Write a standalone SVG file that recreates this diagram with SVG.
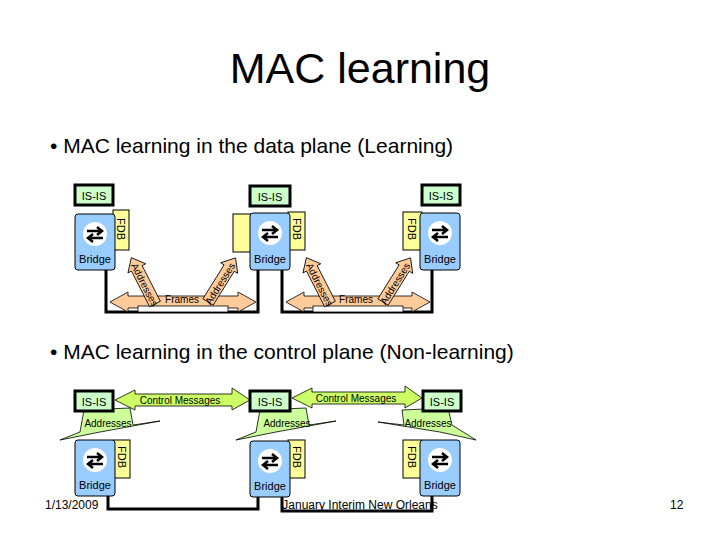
<svg xmlns="http://www.w3.org/2000/svg" width="720" height="540" viewBox="0 0 720 540">
<style>
text{font-family:"Liberation Sans",Arial,sans-serif}
.isis{fill:#ccffcc;stroke:#000;stroke-width:3}
.br{fill:#99ccff;stroke:#000;stroke-width:1}
.fdb{fill:#ffff99;stroke:#000;stroke-width:1}
.sm{font-size:11px}
.ln{fill:none;stroke:#000;stroke-width:3}
.fr{fill:#ffcc99;stroke:#000;stroke-width:0.8}
.cm{fill:#ccff66;stroke:#000;stroke-width:0.8}
.ad{fill:#ccff99;stroke:#000;stroke-width:0.8}
</style>
<defs>
<g id="icon"><circle r="12" fill="#fff"/><path d="M-8,-3 H6 M2,-7 L7,-3 L2,1 M8,4 H-6 M-2,0 L-7,4 L-2,8" stroke="#000" stroke-width="2.5" fill="none"/></g>
<polygon id="addr" class="fr" points="0,-6 40,-6 40,-10 52,0 40,10 40,6 0,6"/>
</defs>
<rect width="720" height="540" fill="#fff"/>
<text x="360" y="83" font-size="43" text-anchor="middle">MAC learning</text>
<text x="50" y="153" font-size="21">•  MAC learning in the data plane (Learning)</text>
<text x="50" y="359" font-size="21">•  MAC learning in the control plane (Non-learning)</text>
<g id="connectors">
<path class="ln" d="M106,270 V312 H258 V270"/>
<path class="ln" d="M282,270 V312 H432 V270"/>
<polygon class="fr" points="110,302 128,292 128,296 238,296 238,292 256,302 238,312 238,308 128,308 128,312"/>
<polygon class="fr" points="286,302 304,292 304,296 412,296 412,292 430,302 412,312 412,308 304,308 304,312"/>
<rect x="138" y="306" width="90" height="6" fill="#fff" stroke="#000" stroke-width="0.8"/>
<rect x="313" y="306" width="90" height="6" fill="#fff" stroke="#000" stroke-width="0.8"/>
<text x="182" y="303" font-size="10" text-anchor="middle">Frames</text>
<text x="356" y="303" font-size="10" text-anchor="middle">Frames</text>
<g transform="translate(155,304) rotate(-117)"><use href="#addr"/><text x="22" y="4" font-size="10" text-anchor="middle" transform="rotate(180 22 0)">Addresses</text></g>
<g transform="translate(208,302) rotate(-58)"><use href="#addr"/><text x="22" y="4" font-size="10" text-anchor="middle">Addresses</text></g>
<g transform="translate(330,304) rotate(-117)"><use href="#addr"/><text x="22" y="4" font-size="10" text-anchor="middle" transform="rotate(180 22 0)">Addresses</text></g>
<g transform="translate(383,302) rotate(-58)"><use href="#addr"/><text x="22" y="4" font-size="10" text-anchor="middle">Addresses</text></g>
<path class="ln" d="M108,495 V509 H258 V495"/>
<path class="ln" d="M282,495 V511 H432 V495"/>
<polygon class="cm" points="115,400 135,390 135,394 232,394 232,388 250,400 232,410 232,406 135,406 135,410"/>
<polygon class="cm" points="292,398 312,388 312,392 405,392 405,386 422,398 405,408 405,404 312,404 312,408"/>
<text x="180" y="404" font-size="10" text-anchor="middle">Control Messages</text>
<text x="356" y="402" font-size="10" text-anchor="middle">Control Messages</text>
<polygon class="ad" points="84,410 130,408 133,425 160,421 100,432 60,440 80,432"/>
<polygon class="ad" points="260,410 306,408 309,425 336,421 276,432 236,440 256,432"/>
<polygon class="ad" points="402,410 448,408 452,425 476,440 440,432 378,422 404,425"/>
<text x="108" y="427" font-size="10" text-anchor="middle">Addresses</text>
<text x="287" y="427" font-size="10" text-anchor="middle">Addresses</text>
<text x="428" y="427" font-size="10" text-anchor="middle">Addresses</text>
</g>
<g id="bridge1">
<rect class="isis" x="75" y="185" width="38" height="20"/><text x="94" y="200" class="sm" text-anchor="middle">IS-IS</text>
<rect class="fdb" x="113" y="210" width="16" height="40"/><text class="sm" transform="translate(117,218) rotate(90)">FDB</text>
<rect class="br" x="75" y="214" width="40" height="56" rx="3"/><use href="#icon" x="95" y="234"/><text x="95" y="263" class="sm" text-anchor="middle">Bridge</text>
</g>
<g id="bridge2">
<rect class="isis" x="250" y="186" width="40" height="20"/><text x="270" y="201" class="sm" text-anchor="middle">IS-IS</text>
<rect class="fdb" x="233" y="214" width="20" height="38" stroke-width="2"/>
<rect class="fdb" x="288" y="212" width="17" height="38"/><text class="sm" transform="translate(293,218) rotate(90)">FDB</text>
<rect class="br" x="250" y="213" width="40" height="57" rx="3"/><use href="#icon" x="270" y="233"/><text x="270" y="263" class="sm" text-anchor="middle">Bridge</text>
</g>
<g id="bridge3">
<rect class="isis" x="422" y="185" width="38" height="20"/><text x="441" y="200" class="sm" text-anchor="middle">IS-IS</text>
<rect class="fdb" x="403" y="212" width="19" height="38"/><text class="sm" transform="translate(408,218) rotate(90)">FDB</text>
<rect class="br" x="420" y="213" width="40" height="57" rx="3"/><use href="#icon" x="440" y="233"/><text x="440" y="263" class="sm" text-anchor="middle">Bridge</text>
</g>
<g id="bridge4">
<rect class="isis" x="75" y="391" width="38" height="20"/><text x="94" y="406" class="sm" text-anchor="middle">IS-IS</text>
<rect class="fdb" x="113" y="440" width="17" height="38"/><text class="sm" transform="translate(118,446) rotate(90)">FDB</text>
<rect class="br" x="75" y="440" width="40" height="56" rx="3"/><use href="#icon" x="95" y="460"/><text x="95" y="489" class="sm" text-anchor="middle">Bridge</text>
</g>
<g id="bridge5">
<rect class="isis" x="250" y="391" width="40" height="20"/><text x="270" y="406" class="sm" text-anchor="middle">IS-IS</text>
<rect class="fdb" x="288" y="440" width="17" height="38"/><text class="sm" transform="translate(293,446) rotate(90)">FDB</text>
<rect class="br" x="250" y="441" width="40" height="56" rx="3"/><use href="#icon" x="270" y="461"/><text x="270" y="490" class="sm" text-anchor="middle">Bridge</text>
</g>
<g id="bridge6">
<rect class="isis" x="423" y="391" width="38" height="20"/><text x="442" y="406" class="sm" text-anchor="middle">IS-IS</text>
<rect class="fdb" x="403" y="440" width="19" height="38"/><text class="sm" transform="translate(408,446) rotate(90)">FDB</text>
<rect class="br" x="420" y="440" width="40" height="56" rx="3"/><use href="#icon" x="440" y="460"/><text x="440" y="489" class="sm" text-anchor="middle">Bridge</text>
</g>
<text x="45" y="509" font-size="12">1/13/2009</text>
<text x="360" y="509" font-size="12" text-anchor="middle">January Interim New Orleans</text>
<text x="670" y="509" font-size="12">12</text>
</svg>
